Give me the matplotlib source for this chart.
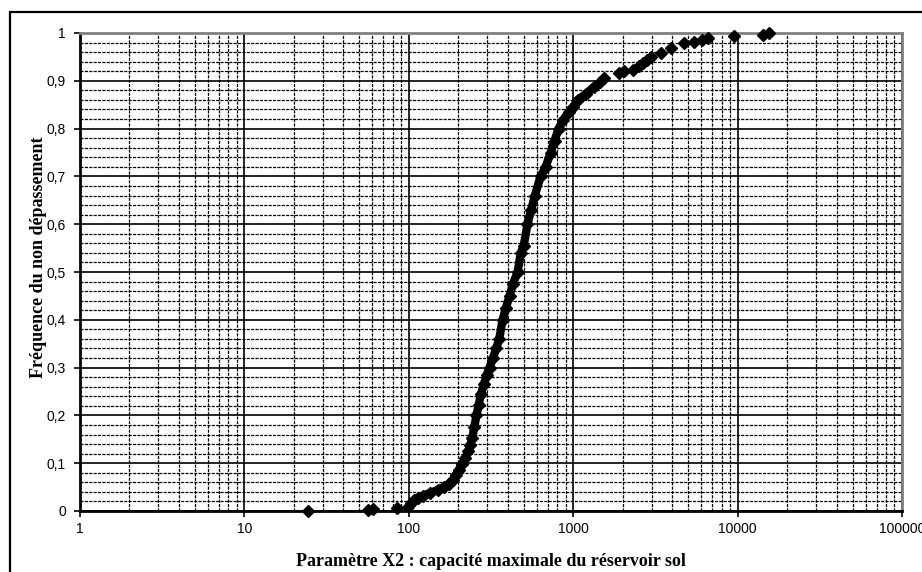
import matplotlib.pyplot as plt
import numpy as np
from matplotlib.ticker import FixedLocator, LogLocator, FuncFormatter, NullFormatter
from matplotlib.patches import Rectangle

# valeurs (X2, frequence de non depassement)
low_x2 = [24.5, 56.7, 60.9, 85.3]
low_freq = [0.000, 0.002, 0.004, 0.006]

body_x2 = [99.5, 103, 108, 113, 122, 135, 150, 163, 175, 185, 193, 201, 211,
           221, 230, 237, 243, 250, 258, 266, 275, 286, 298, 310, 325, 340,
           355, 372, 390, 410, 430, 459, 480, 500, 527, 555, 585, 633, 680,
           730, 770, 815, 870, 940, 1000, 1064, 1200, 1332]
body_freq = [0.008, 0.016, 0.022, 0.027, 0.032, 0.038, 0.044, 0.050, 0.057,
             0.065, 0.075, 0.086, 0.098, 0.111, 0.125, 0.138, 0.152, 0.175,
             0.200, 0.222, 0.245, 0.265, 0.285, 0.300, 0.320, 0.340, 0.360,
             0.400, 0.425, 0.450, 0.475, 0.500, 0.540, 0.555, 0.600, 0.630,
             0.660, 0.700, 0.720, 0.750, 0.775, 0.800, 0.818, 0.835, 0.845,
             0.860, 0.873, 0.887]

tail_x2 = [1450, 1531, 1891, 2050, 2301, 2500, 2649, 2800, 2960, 3407, 3918,
           4700, 5410, 6100, 6580, 9480, 14230, 15490]
tail_freq = [0.898, 0.906, 0.916, 0.920, 0.923, 0.930, 0.937, 0.943, 0.950,
             0.958, 0.969, 0.979, 0.981, 0.985, 0.990, 0.993, 0.996, 1.000]

fig = plt.figure(figsize=(9.22, 5.72), dpi=100)
ax = fig.add_axes([80 / 922, 1 - 511 / 572, 822 / 922, 478 / 572])

ax.plot(body_x2, body_freq, color='black', lw=6, marker='D', ms=6,
        solid_capstyle='round', zorder=5)
ax.plot(low_x2, low_freq, ls='none', color='black', marker='D', ms=6, zorder=5, clip_on=False)
ax.plot(tail_x2, tail_freq, ls='none', color='black', marker='D', ms=6, zorder=5, clip_on=False)

ax.set_xscale('log')
ax.set_xlim(1, 100000)
ax.set_ylim(0, 1)

ax.xaxis.set_major_locator(FixedLocator([1, 10, 100, 1000, 10000, 100000]))
ax.xaxis.set_minor_locator(LogLocator(base=10, subs=np.arange(2, 10)))
ax.xaxis.set_major_formatter(FuncFormatter(lambda v, p: '%d' % round(v)))
ax.xaxis.set_minor_formatter(NullFormatter())
ax.yaxis.set_major_locator(FixedLocator(np.arange(0, 1.01, 0.1)))
ax.yaxis.set_minor_locator(FixedLocator(np.arange(0, 1.001, 0.02)))
ax.yaxis.set_major_formatter(FuncFormatter(lambda v, p: ('%g' % round(v, 1)).replace('.', ',')))

ax.grid(which='major', color='black', lw=1.2, ls='-')
ax.grid(which='minor', color='black', lw=0.9, ls=(0, (2.5, 1)))
ax.set_axisbelow(True)

ax.tick_params(which='major', direction='out', length=4, width=1.2, labelsize=10, pad=4)
ax.tick_params(axis='y', which='major', pad=6)
ax.tick_params(axis='x', which='minor', length=0)
ax.tick_params(axis='y', which='minor', length=0)
for lab in ax.get_xticklabels() + ax.get_yticklabels():
    lab.set_fontfamily('Liberation Sans')

ax.spines['left'].set_linewidth(2)
ax.spines['bottom'].set_linewidth(2)
ax.spines['top'].set_color('#808080')
ax.spines['right'].set_color('#808080')
ax.spines['top'].set_linewidth(2)
ax.spines['right'].set_linewidth(2)

ax.set_xlabel('Paramètre X2 : capacité maximale du réservoir sol', fontfamily='Liberation Serif',
              fontweight='bold', fontsize=13, labelpad=12)
ax.set_ylabel('Fréquence du non dépassement', fontfamily='Liberation Serif',
              fontweight='bold', fontsize=13, labelpad=14)
ax.yaxis.set_label_coords(-33 / 822, 0.53)

fig.patches.append(Rectangle((10 / 922, -0.1), 1.2, 1 - 12 / 572 + 0.1, transform=fig.transFigure,
                             fill=False, ec='black', lw=1.6))

fig.savefig('out.png', dpi=100)
